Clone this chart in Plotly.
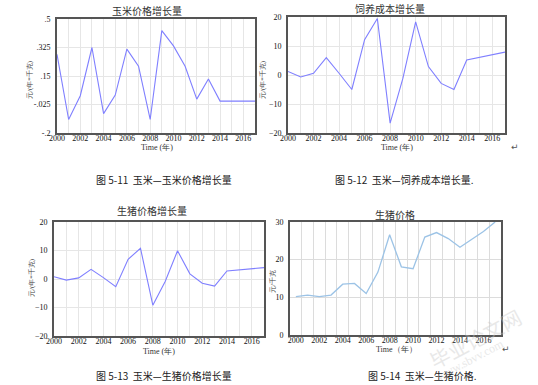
import plotly.graph_objects as go

W, H = 538, 385

years = list(range(2000, 2018))

corn_price_growth = [0.283, -0.117, 0.029, 0.325, -0.081, 0.033, 0.315, 0.21, -0.117,
                     0.429, 0.335, 0.21, 0.008, 0.131, -0.004, -0.004, -0.004, -0.004]
feed_cost_growth = [1.2, -0.7, 0.6, 6.0, 0.6, -5.0, 12.2, 19.5, -16.6,
                    -1.2, 18.3, 2.9, -2.9, -5.0, 5.2, 6.1, 7.0, 7.9]
hog_price_growth = [0.8, -0.4, 0.4, 3.4, 0.5, -2.7, 6.9, 10.8, -9.2,
                    -0.9, 9.9, 1.8, -1.5, -2.5, 2.8, 3.2, 3.6, 4.0]
hog_price = [10.2, 10.6, 10.2, 10.6, 13.5, 13.7, 11.0, 16.7, 26.6,
             18.1, 17.6, 26.0, 27.2, 25.6, 23.3, 25.3, 27.5, 30.0]

p1_ticks = [-0.2, -0.025, 0.15, 0.325, 0.5]
p1_ticktext = ["-.2", "-.025", ".15", ".325", ".5"]
p23_ticks = [-20, -10, 0, 10, 20]
p4_ticks = [0, 10, 20, 30]
x_ticks = list(range(2000, 2017, 2))

titles = ["玉米价格增长量", "饲养成本增长量", "生猪价格增长量", "生猪价格"]
captions = ["图 5-11  玉米—玉米价格增长量", "图 5-12  玉米—饲养成本增长量.",
            "图 5-13  玉米—生猪价格增长量", "图 5-14  玉米—生猪价格."]
ylabels = ["元/(年*千克)", "元/(年*千克)", "元/(年*千克)", "元/千克"]


def px_x(v):
    return v / W


def px_y(v):
    return 1 - v / H


SERIF = "Liberation Serif, Times New Roman, serif"
CJK = "Noto Sans CJK SC, sans-serif"
VLINE = "#7f7fff"
XLINE = "#9cc3e6"

fig = go.Figure()
fig.add_trace(go.Scatter(x=years, y=corn_price_growth, mode="lines",
                         line=dict(color=VLINE, width=1.1), xaxis="x", yaxis="y"))
fig.add_trace(go.Scatter(x=years, y=feed_cost_growth, mode="lines",
                         line=dict(color=VLINE, width=1.1), xaxis="x2", yaxis="y2"))
fig.add_trace(go.Scatter(x=years, y=hog_price_growth, mode="lines",
                         line=dict(color=VLINE, width=1.1), xaxis="x3", yaxis="y3"))
fig.add_trace(go.Scatter(x=years, y=hog_price, mode="lines",
                         line=dict(color=XLINE, width=1.3), xaxis="x4", yaxis="y4"))

boxes = [(57, 255, 19, 133), (288, 505, 17, 133), (54, 264, 222, 336), (290, 501, 222, 335)]

tickfont = dict(family=SERIF, size=8, color="#111")
GRID = "#e6e6e6"
XSTAND = -4


def xaxis_vensim(i):
    l, r, t, b = boxes[i]
    return dict(domain=[px_x(l), px_x(r)], anchor="y" if i == 0 else f"y{i+1}",
                range=[2000, 2017], tickvals=x_ticks, showgrid=True, gridcolor=GRID,
                gridwidth=1, minor=dict(dtick=1, tick0=2000, showgrid=True, gridcolor=GRID),
                showline=True, mirror=True, linecolor="#555", linewidth=2,
                ticks="", ticklen=0, tickfont=tickfont, zeroline=False, fixedrange=True,
                ticklabelstandoff=XSTAND)


def yaxis_common(i, rng, tickvals, ticktext=None):
    l, r, t, b = boxes[i]
    d = dict(domain=[px_y(b), px_y(t)], anchor="x" if i == 0 else f"x{i+1}",
             range=rng, tickvals=tickvals, showgrid=True, gridcolor=GRID,
             showline=True, mirror=True, linecolor="#555", linewidth=2,
             ticks="", ticklen=0, tickfont=tickfont, zeroline=False, fixedrange=True,
             ticklabelstandoff=3)
    if ticktext:
        d["ticktext"] = ticktext
    return d


layout = dict(
    width=W, height=H, margin=dict(l=0, r=0, t=0, b=0, autoexpand=False),
    paper_bgcolor="white", plot_bgcolor="white", showlegend=False,
    xaxis=xaxis_vensim(0), xaxis2=xaxis_vensim(1), xaxis3=xaxis_vensim(2),
    yaxis=yaxis_common(0, [-0.2, 0.5], p1_ticks, p1_ticktext),
    yaxis2=yaxis_common(1, [-20, 20], p23_ticks),
    yaxis3=yaxis_common(2, [-20, 20], p23_ticks),
    yaxis4=yaxis_common(3, [0, 30], p4_ticks),
)
l, r, t, b = boxes[3]
layout["xaxis4"] = dict(domain=[px_x(l), px_x(r)], anchor="y4", range=[1999.5, 2017.5],
                        tickvals=x_ticks, showgrid=False,
                        minor=dict(tick0=1999.5, dtick=1, showgrid=True, gridcolor="#dcdcdc"),
                        showline=True, mirror=True, linecolor="#555", linewidth=2,
                        ticks="", ticklen=0, tickfont=tickfont, zeroline=False, fixedrange=True,
                        ticklabelstandoff=XSTAND)
layout["yaxis4"]["gridcolor"] = "#dcdcdc"
fig.update_layout(**layout)


def ann(text, x, y, size, family=CJK, color="#333", angle=0, opacity=1.0):
    fig.add_annotation(text=text, x=px_x(x), y=px_y(y), xref="paper", yref="paper",
                       showarrow=False, font=dict(family=family, size=size, color=color),
                       textangle=angle, xanchor="center", yanchor="middle", opacity=opacity)


# titles
ann(titles[0], 147, 10, 10)
ann(titles[1], 390, 8, 10)
ann(titles[2], 152, 211, 10)
ann(titles[3], 395, 214, 10)

# x-axis titles
ann("Time (年)", 157, 147, 8, family=SERIF)
ann("Time (年)", 397, 147, 8, family=SERIF)
ann("Time (年)", 159, 351, 8, family=SERIF)
ann("Time（年）", 396, 349, 8, family=SERIF)

# y-axis titles
ann(ylabels[0], 30, 80, 7, family=SERIF, color="#444", angle=-90)
ann(ylabels[1], 263, 80, 7, family=SERIF, color="#444", angle=-90)
ann(ylabels[2], 32, 278, 7, family=SERIF, color="#444", angle=-90)
ann(ylabels[3], 273, 282, 7, family=SERIF, color="#444", angle=-90)

# captions
ann(captions[0], 164, 180, 10, color="#222")
ann(captions[1], 404, 180, 10, color="#222")
ann(captions[2], 164, 375, 10, color="#222")
ann(captions[3], 422, 375, 10, color="#222")

# paragraph marks
ann("↵", 515, 147, 9, family="DejaVu Sans", color="#555")
ann("↵", 506, 349, 9, family="DejaVu Sans", color="#555")

# watermark
ann("毕业论文网", 475, 338, 20, color="#c8c8c8", angle=-28, opacity=0.4)
ann("www.sbvv.com", 470, 360, 12, family=SERIF, color="#c8c8c8", angle=-28, opacity=0.4)

fig.write_html("out.html", config={"displayModeBar": False},
               post_script="document.body.style.margin='0';document.body.style.padding='0';")
